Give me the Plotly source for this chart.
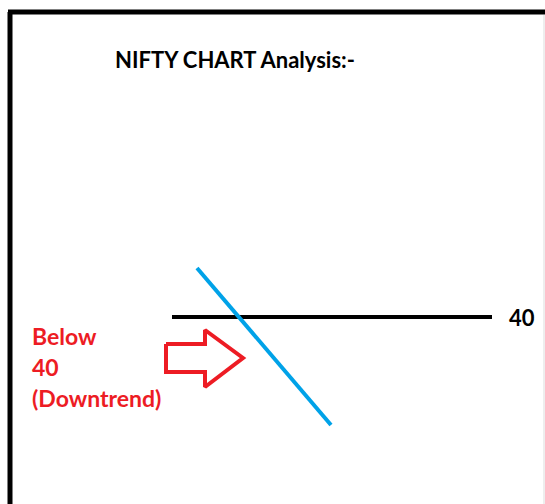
import plotly.graph_objects as go

# Diagram data (coordinates in the drawing's own units: x left->right, y top->bottom)
title_text = "NIFTY CHART Analysis:-"
level_label = "40"
note_lines = ["Below", "40", "(Downtrend)"]

level_x = [172, 492]
level_y = [317, 317]

trend_x = [197, 331]
trend_y = [268, 425]

arrow_x = [166, 205, 205, 243, 205, 205, 166, 166]
arrow_y = [344, 344, 330, 358, 387, 372, 372, 344]

frame_left_x = [10, 10]
frame_left_y = [12, 504]
frame_top_x = [8, 545]
frame_top_y = [12, 12]

fig = go.Figure()

fig.add_trace(go.Scatter(x=frame_left_x, y=frame_left_y, mode="lines",
                         line=dict(color="black", width=5), hoverinfo="skip"))
fig.add_trace(go.Scatter(x=frame_top_x, y=frame_top_y, mode="lines",
                         line=dict(color="black", width=5), hoverinfo="skip"))
fig.add_trace(go.Scatter(x=[544, 544], y=[15, 504], mode="lines",
                         line=dict(color="#dddddd", width=1), hoverinfo="skip"))

fig.add_trace(go.Scatter(x=level_x, y=level_y, mode="lines",
                         line=dict(color="black", width=4), hoverinfo="skip"))
fig.add_trace(go.Scatter(x=trend_x, y=trend_y, mode="lines",
                         line=dict(color="#00A2E8", width=4), hoverinfo="skip"))
fig.add_trace(go.Scatter(x=arrow_x, y=arrow_y, mode="lines",
                         line=dict(color="#ED1C24", width=4), hoverinfo="skip"))

font_family = "Lato, 'Open Sans', sans-serif"

fig.add_annotation(x=113, y=59, text="<b>" + title_text + "</b>", showarrow=False,
                   xanchor="left", yanchor="middle",
                   font=dict(family=font_family, size=22, color="black"))
fig.add_annotation(x=507, y=317, text="<b>" + level_label + "</b>", showarrow=False,
                   xanchor="left", yanchor="middle",
                   font=dict(family=font_family, size=22, color="black"))
for i, line in enumerate(note_lines):
    fig.add_annotation(x=30, y=336 + i * 31, text="<b>" + line + "</b>", showarrow=False,
                       xanchor="left", yanchor="middle",
                       font=dict(family=font_family, size=23, color="#ED1C24"))

fig.update_layout(
    width=545, height=504,
    margin=dict(l=0, r=0, t=0, b=0),
    paper_bgcolor="white", plot_bgcolor="white",
    showlegend=False,
    xaxis=dict(range=[0, 545], visible=False, fixedrange=True),
    yaxis=dict(range=[504, 0], visible=False, fixedrange=True),
)

fig.write_html("out.html", config={"displayModeBar": False},
               post_script="document.body.style.margin='0';document.body.style.overflow='hidden';")
